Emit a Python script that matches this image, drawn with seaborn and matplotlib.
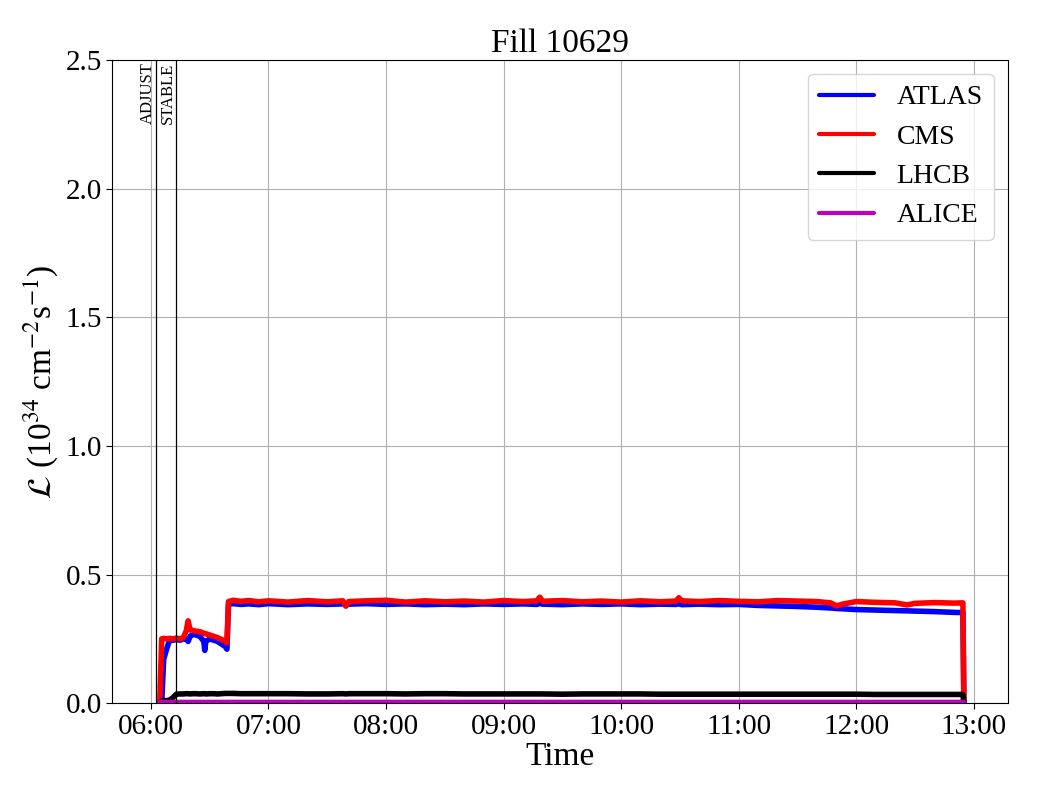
import pandas as pd
import seaborn as sns
import matplotlib.pyplot as plt
import matplotlib.dates as mdates

# minutes after 06:00
minutes = [4.5, 5.5, 6.5, 8, 9.5, 11, 13, 15, 16.5, 18,
           19, 20, 21.5, 23, 25, 27, 27.5, 28, 30, 32,
           34, 36, 38, 38.8, 39.6, 42, 46, 50, 55, 60,
           70, 80, 90, 98, 99.5, 101, 110, 120, 130, 140,
           150, 160, 170, 180, 190, 197, 198.5, 200, 210, 220,
           230, 240, 250, 260, 268, 269.5, 271, 280, 290, 300,
           310, 320, 330, 340, 347, 350, 353, 360, 370, 380,
           386, 390, 400, 410, 414.5, 415]

cms = [0.0, 0.25, 0.252, 0.25, 0.252, 0.25, 0.253, 0.25, 0.255, 0.28,
       0.32, 0.285, 0.282, 0.28, 0.278, 0.272, 0.27, 0.27, 0.265, 0.26,
       0.255, 0.248, 0.24, 0.235, 0.395, 0.40, 0.396, 0.399, 0.394, 0.398,
       0.393, 0.399, 0.394, 0.398, 0.377, 0.395, 0.398, 0.40, 0.393, 0.398,
       0.394, 0.397, 0.393, 0.399, 0.395, 0.398, 0.412, 0.396, 0.399, 0.394,
       0.397, 0.393, 0.398, 0.394, 0.397, 0.41, 0.398, 0.395, 0.399, 0.396,
       0.394, 0.399, 0.397, 0.395, 0.39, 0.378, 0.385, 0.395, 0.392, 0.39,
       0.382, 0.388, 0.391, 0.389, 0.39, 0.0]

atlas = [0.0, 0.0, 0.17, 0.21, 0.245, 0.245, 0.247, 0.245, 0.25, 0.25,
         0.24, 0.26, 0.268, 0.265, 0.26, 0.24, 0.205, 0.24, 0.25, 0.245,
         0.24, 0.23, 0.22, 0.21, 0.385, 0.387, 0.384, 0.386, 0.383, 0.387,
         0.383, 0.386, 0.384, 0.386, 0.382, 0.385, 0.387, 0.384, 0.386, 0.383,
         0.385, 0.383, 0.386, 0.384, 0.386, 0.384, 0.388, 0.385, 0.383, 0.386,
         0.384, 0.386, 0.383, 0.385, 0.384, 0.386, 0.383, 0.385, 0.383, 0.384,
         0.38, 0.378, 0.376, 0.373, 0.37, 0.368, 0.367, 0.364, 0.362, 0.36,
         0.359, 0.358, 0.356, 0.353, 0.352, 0.0]

lhcb = [0.0, 0.008, 0.01, 0.01, 0.012, 0.02, 0.035, 0.036, 0.036, 0.037,
        0.037, 0.036, 0.037, 0.037, 0.036, 0.037, 0.037, 0.036, 0.037, 0.037,
        0.036, 0.037, 0.038, 0.038, 0.038, 0.038, 0.037, 0.037, 0.037, 0.037,
        0.037, 0.036, 0.036, 0.037, 0.036, 0.037, 0.037, 0.037, 0.036, 0.037,
        0.037, 0.036, 0.036, 0.036, 0.036, 0.036, 0.036, 0.036, 0.035, 0.036,
        0.036, 0.036, 0.036, 0.035, 0.035, 0.035, 0.035, 0.035, 0.035, 0.035,
        0.035, 0.035, 0.035, 0.035, 0.035, 0.035, 0.035, 0.035, 0.034, 0.034,
        0.034, 0.034, 0.034, 0.034, 0.034, 0.0]

alice = [0.002, 0.003, 0.003, 0.003, 0.003, 0.003, 0.003, 0.003, 0.003, 0.003,
         0.003, 0.003, 0.003, 0.003, 0.003, 0.003, 0.003, 0.003, 0.003, 0.003,
         0.003, 0.003, 0.003, 0.003, 0.003, 0.003, 0.003, 0.003, 0.003, 0.003,
         0.003, 0.003, 0.003, 0.003, 0.003, 0.003, 0.003, 0.003, 0.003, 0.003,
         0.003, 0.003, 0.003, 0.003, 0.003, 0.003, 0.003, 0.003, 0.003, 0.003,
         0.003, 0.003, 0.003, 0.003, 0.003, 0.003, 0.003, 0.003, 0.003, 0.003,
         0.003, 0.003, 0.003, 0.003, 0.003, 0.003, 0.003, 0.003, 0.003, 0.003,
         0.003, 0.003, 0.003, 0.003, 0.003, 0.002]

experiments = ['ATLAS', 'CMS', 'LHCB', 'ALICE']
colours = ['b', 'r', 'k', 'm']
modes = ['ADJUST', 'STABLE']
mode_minutes = [2.6, 12.8]
start = pd.Timestamp('2025-05-20 06:00')

sns.set_style('ticks', {'text.color': 'k', 'axes.labelcolor': 'k',
                        'xtick.color': 'k', 'ytick.color': 'k',
                        'axes.edgecolor': 'k'})
plt.rcParams['font.family'] = ['Liberation Serif', 'DejaVu Serif']
plt.rcParams['mathtext.fontset'] = 'stix'

t = start + pd.to_timedelta(minutes, unit='min')
df = pd.concat([pd.DataFrame({'time': t, 'lumi': v, 'exp': name})
                for name, v in zip(experiments, [atlas, cms, lhcb, alice])])

fig, ax = plt.subplots(figsize=(10.4, 8), dpi=100)
sns.lineplot(data=df, x='time', y='lumi', hue='exp', hue_order=experiments,
             palette=colours, linewidth=4, ax=ax, estimator=None)

for name, m in zip(modes, mode_minutes):
    tm = start + pd.Timedelta(minutes=m)
    ax.axvline(tm, color='k', lw=0.9)
    ax.text(tm, 2.49, name, rotation=90, ha='right', va='top', fontsize=12)

ax.grid(True, color='#b0b0b0', lw=0.8)
ax.set_ylim(0, 2.5)
ax.set_xlim(start - pd.Timedelta(minutes=19.7), start + pd.Timedelta(minutes=437.4))
ax.xaxis.set_major_locator(mdates.HourLocator())
ax.xaxis.set_major_formatter(mdates.DateFormatter('%H:%M'))
ax.tick_params(labelsize=21, direction='out', length=4)
ax.set_title('Fill 10629', fontsize=24)
ax.set_xlabel('Time', fontsize=24, labelpad=1)
ax.set_ylabel(r'$\mathcal{L}$ (10$^{34}$ cm$^{-2}$s$^{-1}$)', fontsize=24)
leg = ax.legend(loc='upper right', fontsize=20, title=None)
for line in leg.get_lines():
    line.set_linewidth(3)

plt.subplots_adjust(left=0.108, right=0.969, top=0.925, bottom=0.121)
fig.savefig('out.png')
